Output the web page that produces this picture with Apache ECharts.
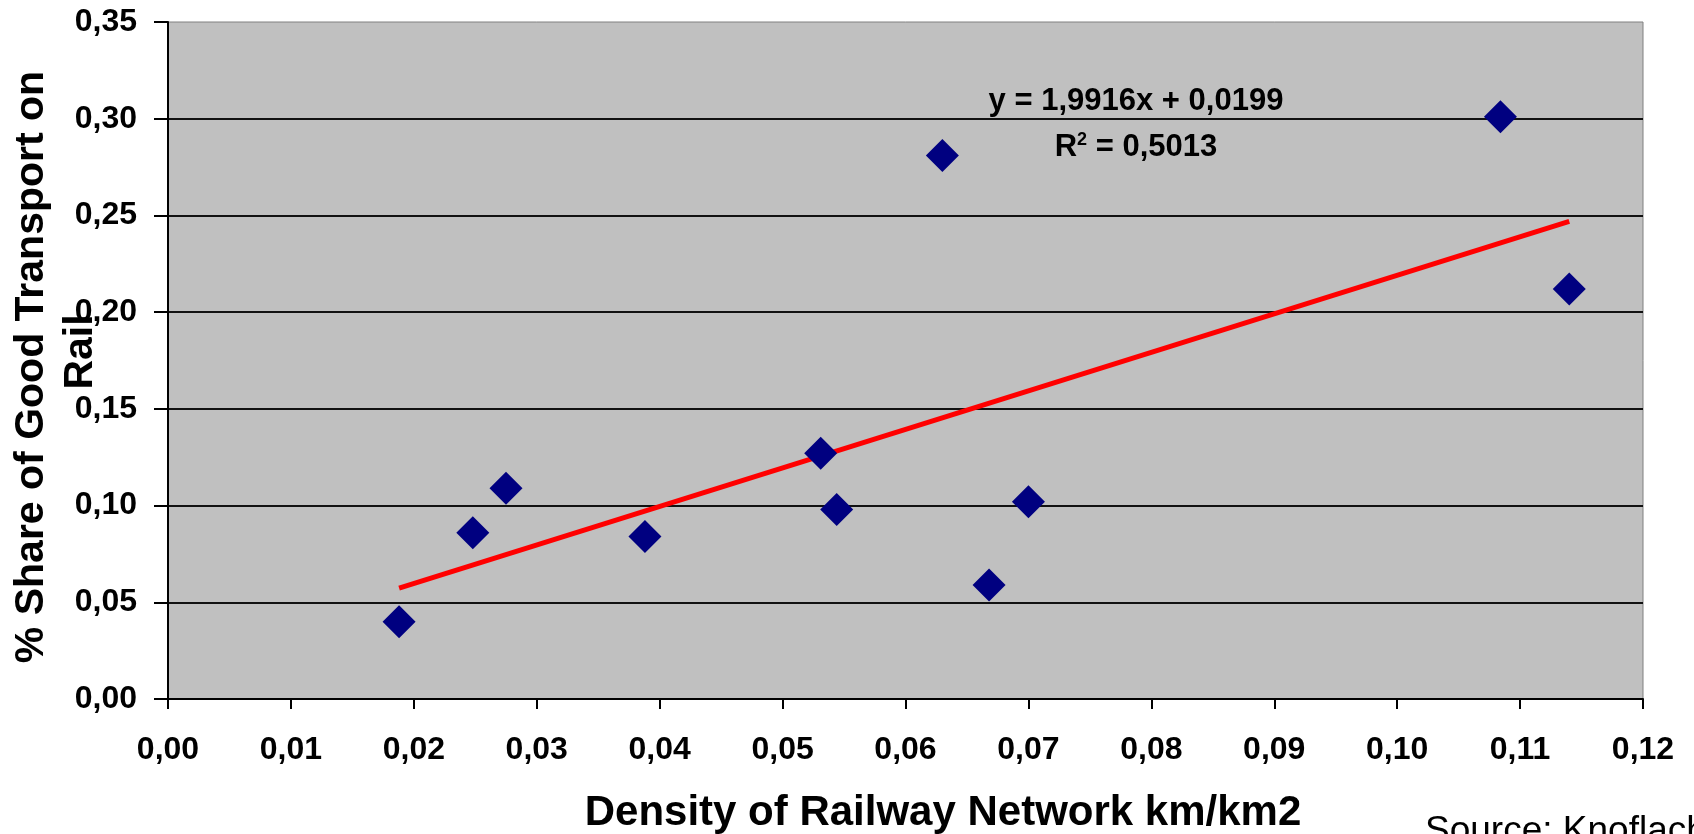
<!DOCTYPE html>
<html>
<head>
<meta charset="utf-8">
<script src="https://cdn.jsdelivr.net/npm/echarts@6/dist/echarts.min.js"></script>
<style>
  html, body { margin: 0; padding: 0; background: #ffffff; }
  #chart { width: 1694px; height: 834px; }
</style>
</head>
<body>
<div id="chart"></div>
<script>
// Railway network density (km/km2) per country
const density = [0.0188, 0.0248, 0.0275, 0.0388, 0.0531, 0.0544, 0.0630, 0.0668, 0.0700, 0.1084, 0.1140];
// Share of goods transport carried by rail
const railShare = [0.040, 0.086, 0.109, 0.084, 0.127, 0.098, 0.281, 0.059, 0.102, 0.301, 0.212];

// Linear trend line as reported on the chart
const trendSlope = 1.9916;
const trendIntercept = 0.0199;
const trendLabel = 'y = 1,9916x + 0,0199';
const r2Value = '0,5013';

// Axis tick settings
const xTicks = { min: 0, max: 0.12, interval: 0.01 };
const yTicks = { min: 0, max: 0.35, interval: 0.05 };

const xTitle = 'Density of Railway Network km/km2';
const yTitleLines = ['% Share of Good Transport on', 'Rail'];
const sourceNote = 'Source: Knoflach';

const points = density.map((d, i) => [d, railShare[i]]);
const xMinData = Math.min(...density);
const xMaxData = Math.max(...density);
const trendPoints = [xMinData, xMaxData].map(x => [x, trendSlope * x + trendIntercept]);

const comma = v => v.toFixed(2).replace('.', ',');
const FONT = '"Liberation Sans", Arial, sans-serif';

const chart = echarts.init(document.getElementById('chart'), null, { renderer: 'canvas' });

chart.setOption({
  animation: false,
  backgroundColor: '#ffffff',
  grid: {
    left: 168, right: 51, top: 22, bottom: 135,
    show: true,
    backgroundColor: '#c0c0c0',
    borderColor: '#808080',
    borderWidth: 1
  },
  xAxis: {
    type: 'value',
    min: xTicks.min, max: xTicks.max, interval: xTicks.interval,
    axisLine: { show: true, onZero: false, lineStyle: { color: '#000', width: 2 } },
    axisTick: { show: true, length: 10, lineStyle: { color: '#000', width: 2 } },
    axisLabel: {
      margin: 35,
      fontFamily: FONT, fontWeight: 'bold', fontSize: 32, color: '#000',
      formatter: comma
    },
    splitLine: { show: false }
  },
  yAxis: {
    type: 'value',
    min: yTicks.min, max: yTicks.max, interval: yTicks.interval,
    axisLine: { show: true, onZero: false, lineStyle: { color: '#000', width: 2 } },
    axisTick: { show: true, length: 14, lineStyle: { color: '#000', width: 2 } },
    axisLabel: {
      margin: 31,
      fontFamily: FONT, fontWeight: 'bold', fontSize: 32, color: '#000',
      formatter: comma
    },
    splitLine: {
      show: true, showMinLine: false, showMaxLine: false,
      lineStyle: { color: '#111', width: 2 }
    }
  },
  series: [
    {
      type: 'line',
      data: trendPoints,
      showSymbol: false,
      symbol: 'none',
      lineStyle: { color: '#ff0000', width: 5 },
      z: 2
    },
    {
      type: 'scatter',
      data: points,
      symbol: 'diamond',
      symbolSize: 33,
      itemStyle: { color: '#000080', opacity: 1 },
      z: 3
    }
  ],
  graphic: [
    {
      type: 'text', x: 943, y: 813,
      style: {
        text: xTitle, font: 'bold 42px ' + FONT, fill: '#000',
        textAlign: 'center', textVerticalAlign: 'middle'
      }
    },
    {
      type: 'text', x: 32, y: 367, rotation: Math.PI / 2,
      style: {
        text: yTitleLines[0], font: 'bold 41px ' + FONT, fill: '#000',
        textAlign: 'center', textVerticalAlign: 'middle'
      }
    },
    {
      type: 'text', x: 81, y: 352, rotation: Math.PI / 2,
      style: {
        text: yTitleLines[1], font: 'bold 41px ' + FONT, fill: '#000',
        textAlign: 'center', textVerticalAlign: 'middle'
      }
    },
    {
      type: 'text', x: 1136, y: 101,
      style: {
        text: trendLabel, font: 'bold 31px ' + FONT, fill: '#000',
        textAlign: 'center', textVerticalAlign: 'middle'
      },
      z: 10
    },
    {
      type: 'text', x: 1136, y: 147,
      style: {
        text: '{r|R}{sup|2}{r| = ' + r2Value + '}',
        textAlign: 'center', textVerticalAlign: 'middle',
        rich: {
          r: { font: 'bold 31px ' + FONT, color: '#000' },
          sup: { font: 'bold 18px ' + FONT, color: '#000', verticalAlign: 'top', padding: [0, 0, 14, 0] }
        }
      },
      z: 10
    },
    {
      type: 'text', x: 1425, y: 813,
      style: {
        text: sourceNote, font: '37px ' + FONT, fill: '#000',
        textAlign: 'left', textVerticalAlign: 'top'
      }
    }
  ]
});
</script>
</body>
</html>
